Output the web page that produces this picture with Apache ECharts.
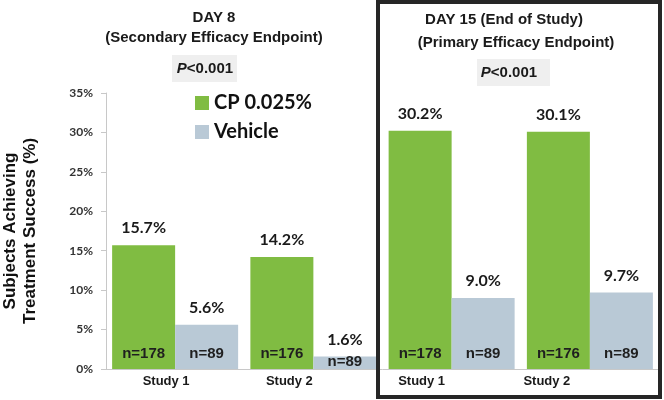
<!DOCTYPE html>
<html>
<head>
<meta charset="utf-8">
<script src="https://cdn.jsdelivr.net/npm/echarts@6/dist/echarts.min.js"></script>
<style>html,body{margin:0;padding:0;background:#fff}#c{width:664px;height:400px}</style>
</head>
<body>
<div id="c"></div>
<script>
const categories = ['Study 1', 'Study 2', 'Study 1', 'Study 2'];
const cpValues = [15.7, 14.2, 30.2, 30.1];
const vehicleValues = [5.6, 1.6, 9.0, 9.7];
const cpN = ['n=178', 'n=176', 'n=178', 'n=176'];
const vehicleN = ['n=89', 'n=89', 'n=89', 'n=89'];
const yTicks = [0, 5, 10, 15, 20, 25, 30, 35];
const seriesNames = ['CP 0.025%', 'Vehicle'];

const GREEN = '#80bc42';
const GRAY = '#b9c9d6';
const ARIAL = '"Liberation Sans", Arial, sans-serif';
const CAL = 'Lato, "Open Sans", sans-serif';

const chart = echarts.init(document.getElementById('c'));

const labelShift = [18, 48, 60, 86];
const rich = {};
labelShift.forEach((p, i) => {
  rich['l' + i] = { fontFamily: ARIAL, fontWeight: 'bold', fontSize: 13, color: '#1a1a1a', padding: [0, p, 0, 0] };
});

const nLabel = (arr) => ({
  show: true, position: 'insideBottom', distance: 8,
  fontFamily: ARIAL, fontWeight: 'bold', fontSize: 15, color: '#1f1f1f',
  formatter: (p) => arr[p.dataIndex]
});

const txt = (text, x, y) => ({ type: 'text', style: { text, x, y, fontFamily: ARIAL, fontWeight: 'bold', fontSize: 15, fill: '#1a1a1a', align: 'center', verticalAlign: 'middle' } });
const pRich = { i: { fontFamily: ARIAL, fontWeight: 'bold', fontStyle: 'italic', fontSize: 15, fill: '#1a1a1a' }, n: { fontFamily: ARIAL, fontWeight: 'bold', fontSize: 15, fill: '#1a1a1a' } };

const option = {
  animation: false,
  backgroundColor: '#ffffff',
  grid: { left: 106, right: 5, top: 93, bottom: 31, outerBoundsMode: 'none', containLabel: false },
  legend: {
    data: seriesNames,
    orient: 'vertical', left: 190, top: 88,
    itemWidth: 14, itemHeight: 14, itemGap: 9,
    icon: 'rect',
    textStyle: { fontFamily: CAL, fontWeight: 'bold', fontSize: 20, color: '#111' }
  },
  xAxis: [{
    type: 'category', data: categories,
    axisLine: { lineStyle: { color: '#c8c8c8', width: 1 } },
    axisTick: { show: false },
    axisLabel: {
      margin: 6,
      formatter: (v, i) => '{l' + i + '|' + v + '}',
      rich: rich
    }
  }, {
    type: 'category', data: categories, show: false
  }],
  yAxis: {
    type: 'value', min: yTicks[0], max: yTicks[yTicks.length - 1], interval: 5,
    splitLine: { show: false },
    axisLine: { show: true, lineStyle: { color: '#c8c8c8' } },
    axisTick: { show: true, length: 5, lineStyle: { color: '#c8c8c8' } },
    axisLabel: { margin: 13, formatter: '{value}%', fontFamily: CAL, fontWeight: 'bold', fontSize: 12, color: '#333' },
    name: 'Subjects Achieving\nTreatment Success (%)',
    nameLocation: 'middle', nameGap: 66, nameRotate: 90,
    nameTextStyle: { fontFamily: ARIAL, fontWeight: 'bold', fontSize: 17, lineHeight: 20, color: '#111' }
  },
  series: [{
    name: seriesNames[0], type: 'bar', data: cpValues, barWidth: 63, barGap: 0,
    itemStyle: { color: GREEN },
    label: { show: true, position: 'top', distance: 9, fontFamily: CAL, fontWeight: 'bold', fontSize: 16, color: '#1a1a1a',
      formatter: (p) => p.value.toFixed(1) + '%' }
  }, {
    name: seriesNames[1], type: 'bar', data: vehicleValues, barWidth: 63, barGap: 0,
    itemStyle: { color: GRAY },
    label: { show: true, position: 'top', distance: 9, fontFamily: CAL, fontWeight: 'bold', fontSize: 16, color: '#1a1a1a',
      formatter: (p) => p.value.toFixed(1) + '%' }
  }, {
    name: 'nCP', type: 'bar', xAxisIndex: 1, data: cpValues, barWidth: 63, barGap: 0, silent: true,
    itemStyle: { color: 'rgba(0,0,0,0)' }, label: nLabel(cpN)
  }, {
    name: 'nVeh', type: 'bar', xAxisIndex: 1, barWidth: 63, barGap: 0, silent: true,
    data: vehicleValues.map((v, i) => (v < 3 ? { value: v, label: { distance: 0 } } : v)),
    itemStyle: { color: 'rgba(0,0,0,0)' }, label: nLabel(vehicleN)
  }],
  graphic: [
    txt('DAY 8', 214, 18),
    txt('(Secondary Efficacy Endpoint)', 214, 38),
    { type: 'rect', shape: { x: 172, y: 55, width: 65, height: 27 }, style: { fill: '#efefef' } },
    { type: 'text', style: { text: '{i|P}{n|<0.001}', x: 205, y: 69, align: 'center', verticalAlign: 'middle', rich: pRich } },
    txt('DAY 15 (End of Study)', 504, 20),
    txt('(Primary Efficacy Endpoint)', 516, 43),
    { type: 'rect', shape: { x: 477, y: 59, width: 73, height: 27 }, style: { fill: '#efefef' } },
    { type: 'text', style: { text: '{i|P}{n|<0.001}', x: 509, y: 73, align: 'center', verticalAlign: 'middle', rich: pRich } },
    { type: 'rect', z: 100, shape: { x: 378, y: 2, width: 282, height: 395 }, style: { fill: null, stroke: '#262626', lineWidth: 4 } }
  ]
};
chart.setOption(option);
</script>
</body>
</html>
